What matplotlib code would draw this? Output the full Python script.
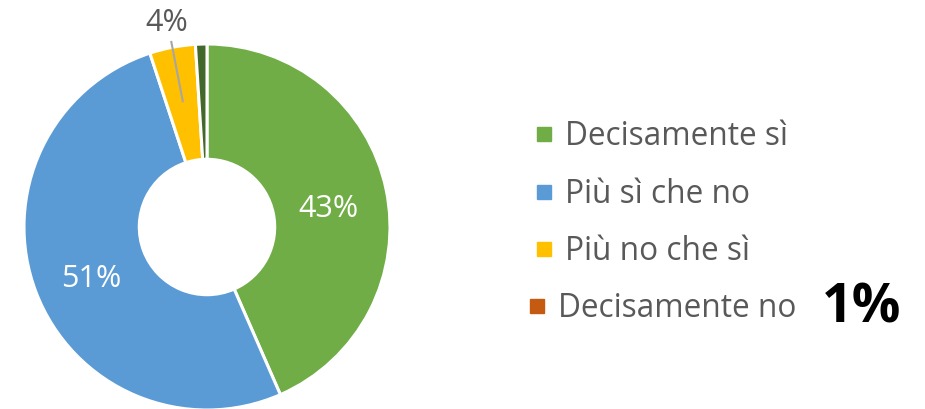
import numpy as np
import matplotlib.pyplot as plt
from matplotlib.patches import Rectangle

plt.rcParams['font.family'] = ['Open Sans', 'DejaVu Sans']

categories = ['Decisamente sì', 'Più sì che no', 'Più no che sì', 'Decisamente no']
values = [43, 51, 4, 1]
slice_colors = ['#70AD47', '#5B9BD5', '#FFC000', '#43682B']
legend_colors = ['#70AD47', '#5B9BD5', '#FFC000', '#C55A11']
label_colors = ['white', 'white', '#595959', None]
highlight = '1%'

fig = plt.figure(figsize=(9.25, 4.10), dpi=100)
ax = fig.add_axes([24 / 925, -1 / 410, 366 / 925, 366 / 410])

wedges, _ = ax.pie(values, colors=slice_colors, startangle=90, counterclock=False,
                   radius=1, wedgeprops=dict(width=0.63, edgecolor='white', linewidth=2.2))
ax.set_xlim(-1, 1)
ax.set_ylim(-1, 1)
ax.set_aspect('equal')
ax.axis('off')

for w, v, c in zip(wedges, values, label_colors):
    if c is None:
        continue
    mid = np.deg2rad((w.theta1 + w.theta2) / 2)
    txt = f'{v}%'
    if c == 'white':
        ax.text(0.68 * np.cos(mid), 0.68 * np.sin(mid) - 0.015, txt, color=c, fontsize=22,
                ha='center', va='center_baseline')
    else:
        ax.plot([0.70 * np.cos(mid), 1.03 * np.cos(mid)], [0.70 * np.sin(mid), 1.03 * np.sin(mid)],
                color='#A6A6A6', lw=1.5, clip_on=False)
        ax.text(1.16 * np.cos(mid), 1.16 * np.sin(mid), txt, color=c, fontsize=22,
                ha='center', va='center_baseline', clip_on=False)

# legenda manuale
row_y = [137, 195, 252, 309]
for i, (name, col) in enumerate(zip(categories, legend_colors)):
    x0 = 537 if i < 3 else 530
    y = 410 - row_y[i]
    fig.patches.append(Rectangle((x0 / 925, (y - 5) / 410), 14 / 925, 14 / 410,
                                 transform=fig.transFigure, color=col))
    fig.text((x0 + 28) / 925, y / 410, name, fontsize=22.8, color='#595959', va='center', ha='left')

fig.text(822 / 925, (410 - 309) / 410, highlight, fontsize=39, fontweight='bold',
         color='black', va='center', ha='left')

fig.savefig('out.png', dpi=100)
